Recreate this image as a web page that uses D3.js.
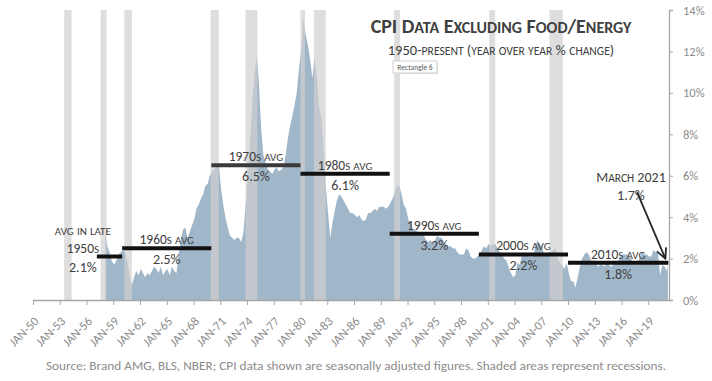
<!DOCTYPE html>
<html><head><meta charset="utf-8">
<script src="https://cdn.jsdelivr.net/npm/d3@7"></script>
<style>
body{margin:0;background:#fff;}
svg{display:block;}
text{font-family:Calibri,Carlito,Lato,sans-serif;}
</style>
</head><body>
<svg id="chart" width="712" height="381"></svg>
<script>
// ---- DATA ----
const firstYear = 1958;
// Core CPI YoY % change, quarterly (mid-quarter), 1958 .. 2021Q1
const coreCpiQuarterly = [
  [3.2,2.6,2.3,1.9],[1.7,1.9,2.2,2.3],[2.4,2.3,1.9,1.2],[0.7,1.1,1.4,1.2],
  [1.5,1.3,1.1,1.3],[1.2,1.4,1.6,1.5],[1.3,1.6,1.2,1.4],[1.5,1.2,1.6,1.4],
  [1.3,2.2,2.9,3.4],[3.5,3.0,3.3,3.6],[3.9,4.4,4.6,4.9],[5.1,5.5,5.6,6.0],
  [6.2,6.3,6.5,6.6],[5.4,4.6,4.0,3.5],[3.1,3.0,2.9,3.0],[3.0,2.8,3.2,4.5],
  [6.0,7.5,9.5,10.9],[11.8,10.5,8.3,7.0],[6.6,6.3,6.2,6.1],[6.3,6.4,6.2,6.3],
  [6.4,7.0,7.8,8.4],[8.9,9.4,10.0,11.2],[12.1,13.6,12.8,12.3],[11.6,10.7,11.7,10.8],
  [9.3,8.8,7.5,5.5],[4.2,3.0,3.7,4.3],[4.8,5.1,5.0,4.8],[4.6,4.4,4.2,4.2],
  [4.1,4.0,4.1,3.9],[3.8,3.9,4.2,4.2],[4.3,4.4,4.3,4.5],[4.5,4.5,4.4,4.5],
  [4.7,4.9,5.2,5.5],[5.5,5.1,4.6,4.4],[3.9,3.7,3.4,3.4],[3.3,3.3,3.2,3.1],
  [2.9,2.8,2.9,2.7],[2.9,3.1,3.0,3.0],[2.8,2.7,2.6,2.6],[2.5,2.5,2.3,2.2],
  [2.2,2.2,2.5,2.4],[2.1,2.0,2.0,2.1],[2.2,2.4,2.6,2.5],[2.7,2.6,2.7,2.7],
  [2.5,2.3,2.2,2.0],[1.9,1.6,1.3,1.1],[1.2,1.8,1.7,2.2],[2.3,2.2,2.1,2.1],
  [2.1,2.6,2.9,2.7],[2.6,2.2,2.1,2.3],[2.3,2.4,2.5,2.0],[1.8,1.7,1.5,1.8],
  [1.3,0.9,0.9,0.6],[1.1,1.6,2.0,2.2],[2.3,2.2,1.9,1.9],[1.9,1.6,1.7,1.7],
  [1.6,1.9,1.7,1.6],[1.7,1.8,1.8,2.1],[2.2,2.2,2.2,2.2],[2.0,1.7,1.7,1.8],
  [2.1,2.3,2.2,2.2],[2.1,2.1,2.4,2.3],[2.3,1.2,1.7,1.6],[1.4]
];
const lastMonth = "2021-03";
const lastValue = 1.7;

const recessionStart = ["1953-07","1957-08","1960-04","1969-12","1973-11","1980-01","1981-07","1990-07","2001-03","2007-12"];
const recessionEnd   = ["1954-05","1958-04","1961-02","1970-11","1975-03","1980-07","1982-11","1991-03","2001-11","2009-06"];

const avgStart = ["1957-03","1960-01","1970-01","1980-01","1990-01","2000-01","2010-01"];
const avgEnd   = ["1960-01","1970-01","1980-01","1990-01","2000-01","2010-01","2021-04"];
const avgValue = [2.1, 2.5, 6.5, 6.1, 3.2, 2.2, 1.8];
const avgTitle = ["1950s avg","1960s avg","1970s avg","1980s avg","1990s avg","2000s avg","2010s avg"];

const yTicks = [0,2,4,6,8,10,12,14];
const xTickYears = d3.range(1950, 2020, 3);

// ---- SETUP ----
const parse = d3.timeParse("%Y-%m");
const svg = d3.select("#chart");
const x = d3.scaleTime().domain([new Date(1950,0,1), new Date(2021,3,28)]).range([33, 669]);
const y = d3.scaleLinear().domain([0,14]).range([300, 10]);

const series = [];
coreCpiQuarterly.forEach((qs, i) => qs.forEach((v, q) => series.push({date: new Date(firstYear + i, q*3+1, 1), value: v})));
series.push({date: new Date(parse(lastMonth).getTime() + 14*864e5), value: lastValue});

function smallCaps(sel, str, size, ratio){
  const runs = []; let cur = null;
  for (const ch of str){
    const low = ch !== ch.toUpperCase();
    if (!cur || cur.low !== low){ cur = {low, t:""}; runs.push(cur); }
    cur.t += ch;
  }
  runs.forEach(r => sel.append("tspan").attr("font-size", r.low ? size*ratio : size).text(r.low ? r.t.toUpperCase() : r.t));
  return sel;
}

// area
svg.append("path").datum(series)
  .attr("fill", "#a0b6c9")
  .attr("d", d3.area().x(d => x(d.date)).y0(y(0)).y1(d => y(d.value)));

// recessions
svg.append("g").selectAll("rect").data(recessionStart).join("rect")
  .attr("x", d => x(parse(d)))
  .attr("width", (d,i) => x(parse(recessionEnd[i])) - x(parse(d)))
  .attr("y", y(14)).attr("height", y(0) - y(14))
  .attr("fill", "#d0d0d0").attr("opacity", 0.7);

// x axis
const xAxis = svg.append("g").attr("transform", `translate(0,${y(0)})`)
  .call(d3.axisBottom(x).tickValues(xTickYears.map(yy => new Date(yy,0,1))).tickSize(5).tickSizeOuter(0)
    .tickFormat(d => "JAN-" + d3.timeFormat("%y")(d)));
xAxis.select(".domain").attr("stroke", "#a6a6a6").attr("stroke-width", 1.3);
xAxis.selectAll(".tick line").attr("stroke", "#a6a6a6");
xAxis.selectAll(".tick text")
  .attr("fill", "#8c8c8c").attr("font-size", 12.5).attr("font-family", "Calibri,Carlito,Lato,sans-serif")
  .attr("text-anchor", "end").attr("x", 0).attr("y", 0).attr("dy", 0)
  .attr("transform", "translate(6,22) rotate(-45)");

// y axis
const yAxis = svg.append("g").attr("transform", `translate(669,0)`)
  .call(d3.axisRight(y).tickValues(yTicks).tickSize(4).tickSizeOuter(4).tickFormat(d => d + "%"));
yAxis.select(".domain").attr("stroke", "#a6a6a6").attr("stroke-width", 1.3);
yAxis.selectAll(".tick line").attr("stroke", "#a6a6a6");
yAxis.selectAll(".tick text").attr("fill", "#8c8c8c").attr("font-size", 12.5)
  .attr("font-family", "Calibri,Carlito,Lato,sans-serif").attr("x", 14);

// average lines
svg.append("g").selectAll("line").data(avgValue).join("line")
  .attr("x1", (d,i) => x(parse(avgStart[i])))
  .attr("x2", (d,i) => x(parse(avgEnd[i])))
  .attr("y1", d => y(d)).attr("y2", d => y(d))
  .attr("stroke", (d,i) => i === 2 ? "#3a3a3a" : "#111").attr("stroke-width", 4);

const ink = "#404040";
const SC = 0.82;
// decade labels (1960s onwards)
avgValue.forEach((v, i) => {
  if (i === 0) return;
  const cx = (x(parse(avgStart[i])) + x(parse(avgEnd[i]))) / 2;
  smallCaps(svg.append("text").attr("x", cx).attr("y", y(v) - 4).attr("text-anchor", "middle").attr("fill", ink), avgTitle[i], 13.5, SC);
  svg.append("text").attr("x", cx).attr("y", y(v) + 16).attr("text-anchor", "middle").attr("fill", ink)
    .attr("font-size", 14).text(v.toFixed(1) + "%");
});
// late 1950s label
{
  const cx = x(parse(avgStart[0])) - 14;
  const yy = y(avgValue[0]);
  smallCaps(svg.append("text").attr("x", cx).attr("y", yy - 22).attr("text-anchor", "middle").attr("fill", ink), "avg in late", 13.5, SC);
  smallCaps(svg.append("text").attr("x", cx).attr("y", yy - 4).attr("text-anchor", "middle").attr("fill", ink), "1950s", 13.5, SC);
  svg.append("text").attr("x", cx).attr("y", yy + 15).attr("text-anchor", "middle").attr("fill", ink)
    .attr("font-size", 14).text(avgValue[0].toFixed(1) + "%");
}

// March 2021 annotation
{
  const lx = x(new Date(2016,6,1)) + 5;
  smallCaps(svg.append("text").attr("x", lx).attr("y", y(5.7)).attr("text-anchor", "middle").attr("fill", ink), "March 2021", 14, SC);
  svg.append("text").attr("x", lx).attr("y", y(4.85)).attr("text-anchor", "middle").attr("fill", ink)
    .attr("font-size", 14).text(lastValue.toFixed(1) + "%");
  const defs = svg.append("defs");
  defs.append("marker").attr("id", "arr").attr("viewBox", "0 0 12 12").attr("refX", 11).attr("refY", 6)
    .attr("markerWidth", 12).attr("markerHeight", 12).attr("markerUnits", "userSpaceOnUse").attr("orient", "auto")
    .append("path").attr("d", "M1,1 L11,6 L1,11").attr("fill", "none").attr("stroke", "#262626").attr("stroke-width", 1.8);
  svg.append("line")
    .attr("x1", x(new Date(2017,9,1))).attr("y1", y(5.2))
    .attr("x2", x(new Date(2020,11,1))).attr("y2", y(2.0))
    .attr("stroke", "#262626").attr("stroke-width", 1.8).attr("marker-end", "url(#arr)");
}

// title
smallCaps(svg.append("text").attr("x", 501).attr("y", 33).attr("text-anchor", "middle")
  .attr("fill", ink).attr("font-weight", "bold"), "CPI Data Excluding Food/Energy", 20, 0.8);
smallCaps(svg.append("text").attr("x", 501).attr("y", 55).attr("text-anchor", "middle")
  .attr("fill", ink), "1950-present (year over year % change)", 14.5, 0.8);

// stray "Rectangle 6" tag
{
  const g = svg.append("g").attr("transform", "translate(393,61)");
  g.append("rect").attr("x", 1).attr("y", 1).attr("width", 44).attr("height", 12).attr("fill", "#e6e6e6");
  g.append("rect").attr("width", 44).attr("height", 12).attr("fill", "#fff").attr("stroke", "#c4c4c4").attr("stroke-width", 0.8);
  g.append("text").attr("x", 22).attr("y", 8.8).attr("text-anchor", "middle").attr("font-size", 7.5)
    .attr("fill", "#595959").text("Rectangle 6");
}

// source
svg.append("text").attr("x", 356).attr("y", 370).attr("text-anchor", "middle")
  .attr("fill", "#8c8c8c").attr("font-size", 12).attr("textLength", 620).attr("lengthAdjust", "spacingAndGlyphs")
  .text("Source: Brand AMG, BLS, NBER; CPI data shown are seasonally adjusted figures. Shaded areas represent recessions.");
</script>
</body></html>
